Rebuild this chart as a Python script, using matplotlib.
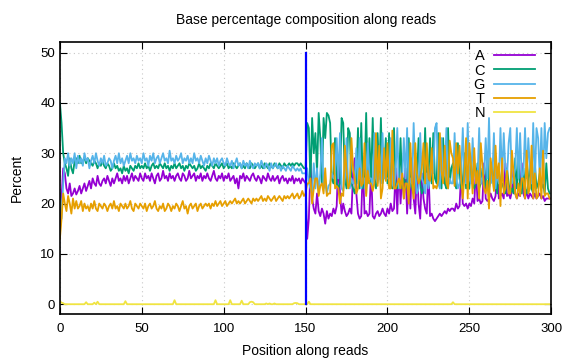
import numpy as np
import matplotlib
matplotlib.use("Agg")
import matplotlib.pyplot as plt

plt.rcParams['font.family'] = ['Liberation Sans', 'DejaVu Sans']

# percentages per read position (0..299)
pct_a = [
    14, 21, 27, 26, 23, 22, 24, 21.5, 22, 23,
    21.8, 22.5, 23.5, 22, 23, 24, 22.5, 23.5, 24.5, 23,
    25, 24, 23.5, 25.5, 24, 23.5, 24.5, 25, 24, 25.5,
    24.5, 23.5, 25, 24, 25, 26, 24.5, 25, 24, 25.5,
    24.5, 25.5, 24, 25, 26, 24.5, 25.5, 25, 24.5, 26,
    25, 24.5, 26, 25, 25.5, 24.5, 26, 25, 24, 25.5,
    26, 24.5, 25, 26.5, 25, 25.5, 24.5, 26, 25, 25.5,
    24.5, 25.5, 26, 25, 24.5, 26, 25.5, 24.5, 25, 26.5,
    25, 25.5, 26, 24.5, 25.5, 25, 26, 24.5, 25.5, 25,
    26, 25, 24.5, 25.5, 26.5, 25, 24.5, 25.5, 25, 26,
    24.5, 25.5, 25, 26, 24.5, 25, 25.5, 24, 25, 23,
    25.5, 25, 26, 24.5, 25.5, 25, 24.5, 25.5, 26, 25,
    24.5, 25.5, 25, 24, 25.5, 25, 24.5, 26, 25, 24.5,
    25.5, 24.5, 25, 25.5, 24, 25, 25.5, 24.5, 25, 24,
    25, 24.5, 25.5, 24, 25, 24.5, 25, 24, 25, 24.5,
    24, 13, 17, 28, 21, 19, 18, 22, 18.5, 17.5,
    19, 18, 16, 18.5, 17, 18, 17.5, 19, 18, 19.5,
    29, 22, 18, 20, 18.5, 17.5, 18, 19, 18, 26,
    29, 22, 18, 17, 17.5, 28, 18, 18.5, 17.5, 18,
    27, 17.5, 17, 18, 18.5, 17.5, 18, 19, 18, 17.5,
    19, 18, 20, 18.5, 19, 27, 18, 28, 20, 26,
    21, 27, 18, 25, 19, 29, 21, 18, 27, 20,
    17, 26, 21, 19, 18, 27, 17.5, 18, 17, 16.5,
    17, 17.5, 18, 17.5, 18, 18.5, 18, 19, 18.5, 19,
    19, 18.5, 20, 19, 19.5, 26, 20, 19.5, 20, 19,
    20, 19.5, 21, 20, 27, 20.5, 21, 20, 20.5, 28,
    21, 20.5, 21, 22, 21, 20.5, 21.5, 27, 21, 21.5,
    22, 21, 28, 21.5, 22, 21, 22.5, 27, 22, 21,
    22, 21.5, 28, 22, 21, 22.5, 21, 22, 21.5, 21,
    22, 21, 21.5, 22, 21, 21.5, 20.5, 21, 21, 21,
]
pct_c = [
    40, 36, 30, 28, 27, 25.5, 29, 27, 26, 28.5,
    29, 28, 29.5, 28, 28.5, 29, 28, 29, 28.5, 28,
    27.5, 28.5, 28, 27, 28, 27.5, 28.5, 27.5, 27, 28,
    27.5, 26.5, 27, 28, 27, 27.5, 26.5, 27, 26, 27.5,
    26.5, 27, 26, 27.5, 27, 26.5, 27.5, 27, 28, 27,
    27.5, 27, 28, 27, 27.5, 26.5, 27.5, 28, 27, 27.5,
    27, 28, 27.5, 27, 28, 27, 27.5, 26.5, 27.5, 27,
    28, 27, 27.5, 28, 27, 27.5, 26.5, 27.5, 27, 28,
    27.5, 27, 27.5, 26.5, 27, 28, 27, 27.5, 27, 26.5,
    27.5, 27, 28, 27.5, 27, 28, 27.5, 27, 27.5, 28,
    27, 27.5, 28, 27, 27.5, 27, 28, 27.5, 27, 27.5,
    28, 27, 27.5, 27, 28, 27.5, 27, 28, 27.5, 27,
    27.5, 28, 27, 27.5, 27, 28, 27.5, 27, 28, 27.5,
    27, 28, 27.5, 27, 28, 27.5, 27, 28, 27.5, 27.5,
    28, 27.5, 28, 27.5, 28, 28, 27.5, 28, 27.5, 27,
    27, 36, 35, 24, 37, 30, 34, 26, 38, 33,
    24, 37, 33, 38, 37.5, 36, 25, 24, 33, 24,
    23, 24, 37, 36, 25, 23, 35, 34, 24, 23,
    22, 25, 35, 23, 36, 23, 25, 38, 24, 33,
    24, 37, 25, 23, 34, 25, 37, 24, 26, 33,
    24, 34, 24, 23, 35, 24, 23, 24, 33, 23,
    25, 24, 23, 33, 24, 23, 22, 24, 25, 33,
    24, 22, 23, 35, 24, 25, 33, 24, 34, 25,
    24, 34, 25, 23, 33, 24, 23, 35, 24, 27,
    28, 24, 23, 32, 25, 23, 24, 30, 23, 24,
    23, 29, 24, 23, 24, 28, 23, 24, 27, 23,
    24, 30, 23, 25, 28, 23, 24, 22, 27, 24,
    24, 23, 22, 27, 24, 22, 23, 22, 29, 23,
    29, 23, 22, 27, 23, 22, 24, 28, 23, 22,
    28, 23, 24, 26, 23, 24, 22, 28, 23, 22,
]
pct_g = [
    22, 17, 24, 29, 28, 30, 27.5, 29, 28, 30,
    27, 29.5, 28, 29, 27.5, 30, 28.5, 29, 27, 28.5,
    29.5, 28, 30, 28.5, 27.5, 29, 28, 29.5, 27.5, 28,
    29, 28.5, 27, 28.5, 29.5, 28, 30, 28, 29, 27.5,
    28.5, 29.5, 28, 30, 28.5, 29, 28, 29.5, 28.5, 29,
    28, 30, 28.5, 29, 27.5, 29.5, 28.5, 30, 28, 29,
    29.5, 28, 29, 30, 28.5, 29, 28, 30.5, 28.5, 29,
    28, 29.5, 28.5, 29, 30, 28, 29, 28.5, 29.5, 28,
    29, 28, 30, 28.5, 29, 28, 29.5, 28.5, 27.5, 29,
    28, 29.5, 28.5, 27.5, 29, 28, 29, 27.5, 28.5, 29,
    28, 27.5, 29, 28, 27.5, 28.5, 27, 28, 29, 27.5,
    28, 27, 28.5, 27.5, 28, 27, 28.5, 27.5, 27, 28,
    27.5, 28, 27, 28.5, 27.5, 27, 28, 27.5, 26.5, 28,
    27, 27.5, 28, 27, 27.5, 26.5, 27.5, 27, 26.5, 27.5,
    27, 26.5, 27.5, 27, 26.5, 27, 26.5, 27, 26, 26,
    26, 27, 24, 23, 22, 28, 23, 27, 22, 26,
    33, 23, 24, 22, 23.5, 24, 26, 25, 26, 33,
    25, 34, 23, 22.5, 25, 33, 24, 23, 25, 24,
    24, 31, 24, 33, 23, 25, 25, 22, 32, 25,
    25, 23, 34, 25, 24, 26, 24, 34, 25, 25,
    25, 25, 33, 24, 23, 26, 35, 23, 24, 25,
    33, 25, 35, 22, 25, 24, 36, 26, 22, 23,
    34, 25, 24, 22, 26, 23, 25, 27, 26, 35,
    36, 24, 23, 33, 25, 26, 35, 23, 25, 24,
    24, 34, 25, 23, 24, 26, 35, 25, 24, 36,
    25, 24, 33, 26, 25, 25, 35, 24, 25, 26,
    33, 25, 37, 24, 25, 34, 23, 26, 24, 35,
    25, 34, 27, 25, 32, 35, 24, 25, 27, 35,
    25, 34, 25, 26, 35, 25, 33, 27, 24, 36,
    24, 35, 33, 25, 35, 24, 36, 29, 34, 35,
]
pct_t = [
    13, 17, 22, 20, 18.5, 21.5, 20, 18, 21, 19,
    20.5, 19, 19.5, 20.5, 18.5, 20, 19, 19.5, 18.5, 20,
    19, 20.5, 19, 18.5, 20, 19.5, 19, 20, 19.5, 18.5,
    19.5, 20, 19, 20.5, 19, 19.5, 18.5, 20, 19.5, 19,
    20, 19, 19.5, 20.5, 19, 18.5, 20, 19.5, 19, 20,
    19.5, 19, 20, 18.5, 19.5, 20, 19, 19.5, 20.5, 19,
    18.5, 19.5, 19, 20, 18.5, 19, 20, 19.5, 18.5, 19.5,
    19, 20, 19.5, 18.5, 19.5, 20.5, 19, 19.5, 18, 19.5,
    20, 19, 19.5, 20, 18.5, 19.5, 20, 19, 19.5, 20,
    19.5, 20, 19, 20, 19.5, 20.5, 19.5, 20, 20.5, 19.5,
    20, 20.5, 19.5, 20, 20.5, 20, 20.5, 21, 20, 20.5,
    20, 20.5, 21, 20, 20.5, 21, 20.5, 20, 21, 20.5,
    21, 20.5, 21, 21.5, 20.5, 21, 20.5, 21.5, 21, 20.5,
    21, 21.5, 20.5, 21, 21.5, 21, 20.5, 21.5, 21, 21.5,
    21, 21.5, 22, 21, 21.5, 22, 21, 21.5, 22.5, 21.5,
    22, 24, 24, 25, 20, 23, 25, 25, 21.5, 23.5,
    24, 22, 27, 21.5, 22, 22, 31.5, 32, 23, 23.5,
    23, 20, 22, 21.5, 31.5, 26.5, 23, 24, 33, 27,
    25, 22, 23, 27, 23.5, 24, 32, 21.5, 26.5, 24,
    24, 22.5, 24, 34, 23.5, 31.5, 21, 23, 31, 24.5,
    32, 23, 23, 34.5, 23, 23, 24, 25, 23, 26,
    21, 24, 24, 20, 32, 24, 21, 32, 26, 24,
    25, 27, 32, 24, 32, 25, 24.5, 31, 23, 23.5,
    23, 24.5, 34, 26.5, 24, 31.5, 24, 23, 32.5, 30,
    29, 23.5, 32, 26, 31.5, 25, 21, 25.5, 33, 21,
    32, 27.5, 22, 31, 24, 26.5, 21, 32, 27.5, 23,
    22, 24.5, 19, 29, 26, 22.5, 31.5, 25, 28, 19.5,
    29, 22, 23, 26.5, 22, 22, 30.5, 26, 22, 21,
    24, 21.5, 25, 25, 21, 30.5, 22, 23, 31.5, 21,
    26, 21, 21.5, 27, 21, 30.5, 21.5, 22, 22, 21,
]
# N is ~0 everywhere except a few small bumps
n_spike_pos = [0, 1, 2, 16, 21, 23, 40, 70, 95, 104, 111, 116, 117, 118,
               126, 128, 131, 143, 144, 145, 152, 240]
n_spike_val = [0.6, 0.3, 0.2, 0.4, 0.3, 0.5, 0.6, 0.8, 0.8, 0.8, 0.7, 0.4, 0.5, 0.4,
               0.15, 0.15, 0.15, 0.2, 0.25, 0.2, 0.5, 0.4]
read_split = 150   # position of the read1/read2 marker

positions = np.arange(len(pct_a))
pct_n = np.zeros(len(pct_a))
pct_n[n_spike_pos] = n_spike_val

series = [
    ("A", pct_a, "#9400d3"),
    ("C", pct_c, "#009e73"),
    ("G", pct_g, "#56b4e9"),
    ("T", pct_t, "#e69f00"),
    ("N", pct_n, "#f0e442"),
]

fig = plt.figure(figsize=(5.76, 3.6), dpi=100)
ax = fig.add_axes([0.104, 0.127, 0.853, 0.755])

for name, vals, col in series:
    ax.plot(positions, vals, color=col, lw=1.3, label=name)

ax.plot([read_split, read_split], [0, 50], color="#0000ff", lw=1.6)

ax.set_xlim(0, 300)
ax.set_ylim(-2, 52)
ax.set_xticks(range(0, 301, 50))
ax.set_yticks(range(0, 51, 10))
ax.tick_params(direction="in", top=True, right=True, labelsize=9.5, length=5, width=0.8)
ax.tick_params(axis="x", pad=6.5)
ax.grid(True, color="#c8c8c8", linestyle=(0, (1, 3)), lw=0.8)
for s in ax.spines.values():
    s.set_linewidth(1.2)

ax.set_title("Base percentage composition along reads", fontsize=10, pad=13)
ax.set_xlabel("Position along reads", fontsize=10, labelpad=6)
ax.set_ylabel("Percent", fontsize=10, labelpad=12)

leg = ax.legend(loc="upper right", bbox_to_anchor=(0.966, 0.975), frameon=False,
                markerfirst=False, fontsize=10.5, handlelength=2.8,
                labelspacing=0.02, handletextpad=0.6, borderpad=0, borderaxespad=0)

fig.savefig("out.png", dpi=100)
